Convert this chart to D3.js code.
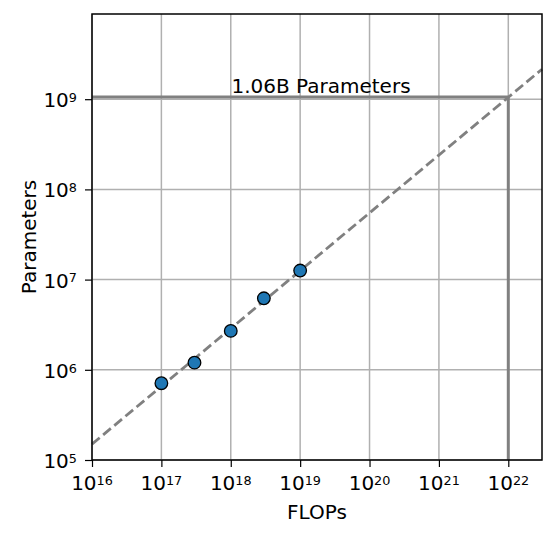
<!DOCTYPE html>
<html>
<head>
<meta charset="utf-8">
<script src="https://cdn.jsdelivr.net/npm/d3@7"></script>
<style>
  body { margin: 0; background: #fff; }
  svg { display: block; font-family: "DejaVu Sans", sans-serif; }
</style>
</head>
<body>
<div id="chart-area"></div>
<script>
// canvas and margin sizes
const MARGIN = { LEFT: 92, RIGHT: 14, TOP: 14, BOTTOM: 79 }
const WIDTH = 556 - MARGIN.LEFT - MARGIN.RIGHT
const HEIGHT = 539 - MARGIN.TOP - MARGIN.BOTTOM

// measured runs (compute vs model size)
const flops = [1e17, 3e17, 1e18, 3e18, 1e19]
const params = [7.1e5, 1.2e6, 2.7e6, 6.2e6, 1.26e7]

// fitted power law, drawn end to end
const fitFlops = [1e16, 3.06e22]
const fitParams = [1.5e5, 2.15e9]

// target budget and predicted size
const targetFlops = 1e22
const targetParams = 1.06e9
const targetLabel = "1.06B Parameters"
const labelFlops = 2e19

// axis ranges and ticks
const xDomain = [1e16, 3.06e22]
const yDomain = [1e5, 8.8e9]
const xExponents = [16, 17, 18, 19, 20, 21, 22]
const yExponents = [5, 6, 7, 8, 9]

const svg = d3.select("#chart-area").append("svg")
  .attr("width", WIDTH + MARGIN.LEFT + MARGIN.RIGHT)
  .attr("height", HEIGHT + MARGIN.TOP + MARGIN.BOTTOM)

const g = svg.append("g")
  .attr("transform", `translate(${MARGIN.LEFT}, ${MARGIN.TOP})`)

const x = d3.scaleLog().domain(xDomain).range([0, WIDTH])
const y = d3.scaleLog().domain(yDomain).range([HEIGHT, 0])

// minor ticks: 2..9 times each decade, kept inside the domain
function minors(scale, exps) {
  const out = []
  const [lo, hi] = scale.domain()
  exps.concat([exps[exps.length - 1] + 1]).forEach(e => {
    for (let k = 2; k <= 9; k++) {
      const v = k * Math.pow(10, e - 1)
      if (v > lo * 1.0001 && v < hi * 0.9999) out.push(v)
    }
  })
  return out
}
const xMajor = xExponents.map(e => Math.pow(10, e))
const yMajor = yExponents.map(e => Math.pow(10, e))

// grid
g.append("g").selectAll("line").data(xMajor).join("line")
  .attr("x1", d => x(d)).attr("x2", d => x(d))
  .attr("y1", 0).attr("y2", HEIGHT)
  .attr("stroke", "#b0b0b0").attr("stroke-width", 1.5)
g.append("g").selectAll("line").data(yMajor).join("line")
  .attr("y1", d => y(d)).attr("y2", d => y(d))
  .attr("x1", 0).attr("x2", WIDTH)
  .attr("stroke", "#b0b0b0").attr("stroke-width", 1.5)

// target guide lines
g.append("line")
  .attr("x1", 0).attr("x2", x(targetFlops))
  .attr("y1", y(targetParams)).attr("y2", y(targetParams))
  .attr("stroke", "#808080").attr("stroke-width", 3)
g.append("line")
  .attr("x1", x(targetFlops)).attr("x2", x(targetFlops))
  .attr("y1", HEIGHT).attr("y2", y(targetParams))
  .attr("stroke", "#808080").attr("stroke-width", 3)

g.append("text")
  .attr("x", x(labelFlops))
  .attr("y", y(targetParams) - 4)
  .attr("font-size", "20px")
  .attr("text-anchor", "middle")
  .text(targetLabel)

// fit line
const fit = fitFlops.map((f, i) => [f, fitParams[i]])
g.append("path")
  .datum(fit)
  .attr("d", d3.line().x(d => x(d[0])).y(d => y(d[1])))
  .attr("fill", "none")
  .attr("stroke", "#808080")
  .attr("stroke-width", 2.8)
  .attr("stroke-dasharray", "10,4.5")

// points
g.selectAll("circle").data(flops).join("circle")
  .attr("cx", d => x(d))
  .attr("cy", (d, i) => y(params[i]))
  .attr("r", 6.3)
  .attr("fill", "#1f77b4")
  .attr("stroke", "#000")
  .attr("stroke-width", 1.3)

// axes
const xAxisGroup = g.append("g").attr("transform", `translate(0, ${HEIGHT})`)
xAxisGroup.call(d3.axisBottom(x).tickValues(minors(x, xExponents)).tickSize(4).tickFormat(""))
xAxisGroup.call(d3.axisBottom(x).tickValues(xMajor).tickSize(7).tickPadding(7).tickFormat(""))

const yAxisGroup = g.append("g")
yAxisGroup.call(d3.axisLeft(y).tickValues(minors(y, yExponents)).tickSize(4).tickFormat(""))
yAxisGroup.call(d3.axisLeft(y).tickValues(yMajor).tickSize(7).tickPadding(8).tickFormat(""))

g.selectAll(".domain").remove()
g.selectAll(".tick line").attr("stroke", "#000").attr("stroke-width", 1.2)

// 10^n labels with superscripts
function powerLabel(sel, e) {
  sel.text("")
  sel.append("tspan").text("10")
  sel.append("tspan").attr("dy", "-0.4em").attr("font-size", "0.64em").text(e)
}
xExponents.forEach(e => {
  const t = g.append("text")
    .attr("x", x(Math.pow(10, e)))
    .attr("y", HEIGHT + 30)
    .attr("font-size", "20px")
    .attr("text-anchor", "middle")
  powerLabel(t, e)
})
yExponents.forEach(e => {
  const t = g.append("text")
    .attr("x", -15)
    .attr("y", y(Math.pow(10, e)) + 8)
    .attr("font-size", "20px")
    .attr("text-anchor", "end")
  powerLabel(t, e)
})

// frame
g.append("rect")
  .attr("width", WIDTH).attr("height", HEIGHT)
  .attr("fill", "none").attr("stroke", "#000").attr("stroke-width", 1.5)

// axis labels
g.append("text")
  .attr("x", WIDTH / 2)
  .attr("y", HEIGHT + 59)
  .attr("font-size", "20px")
  .attr("text-anchor", "middle")
  .text("FLOPs")

g.append("text")
  .attr("x", -(HEIGHT / 2))
  .attr("y", -56)
  .attr("font-size", "20px")
  .attr("text-anchor", "middle")
  .attr("transform", "rotate(-90)")
  .text("Parameters")
</script>
</body>
</html>
